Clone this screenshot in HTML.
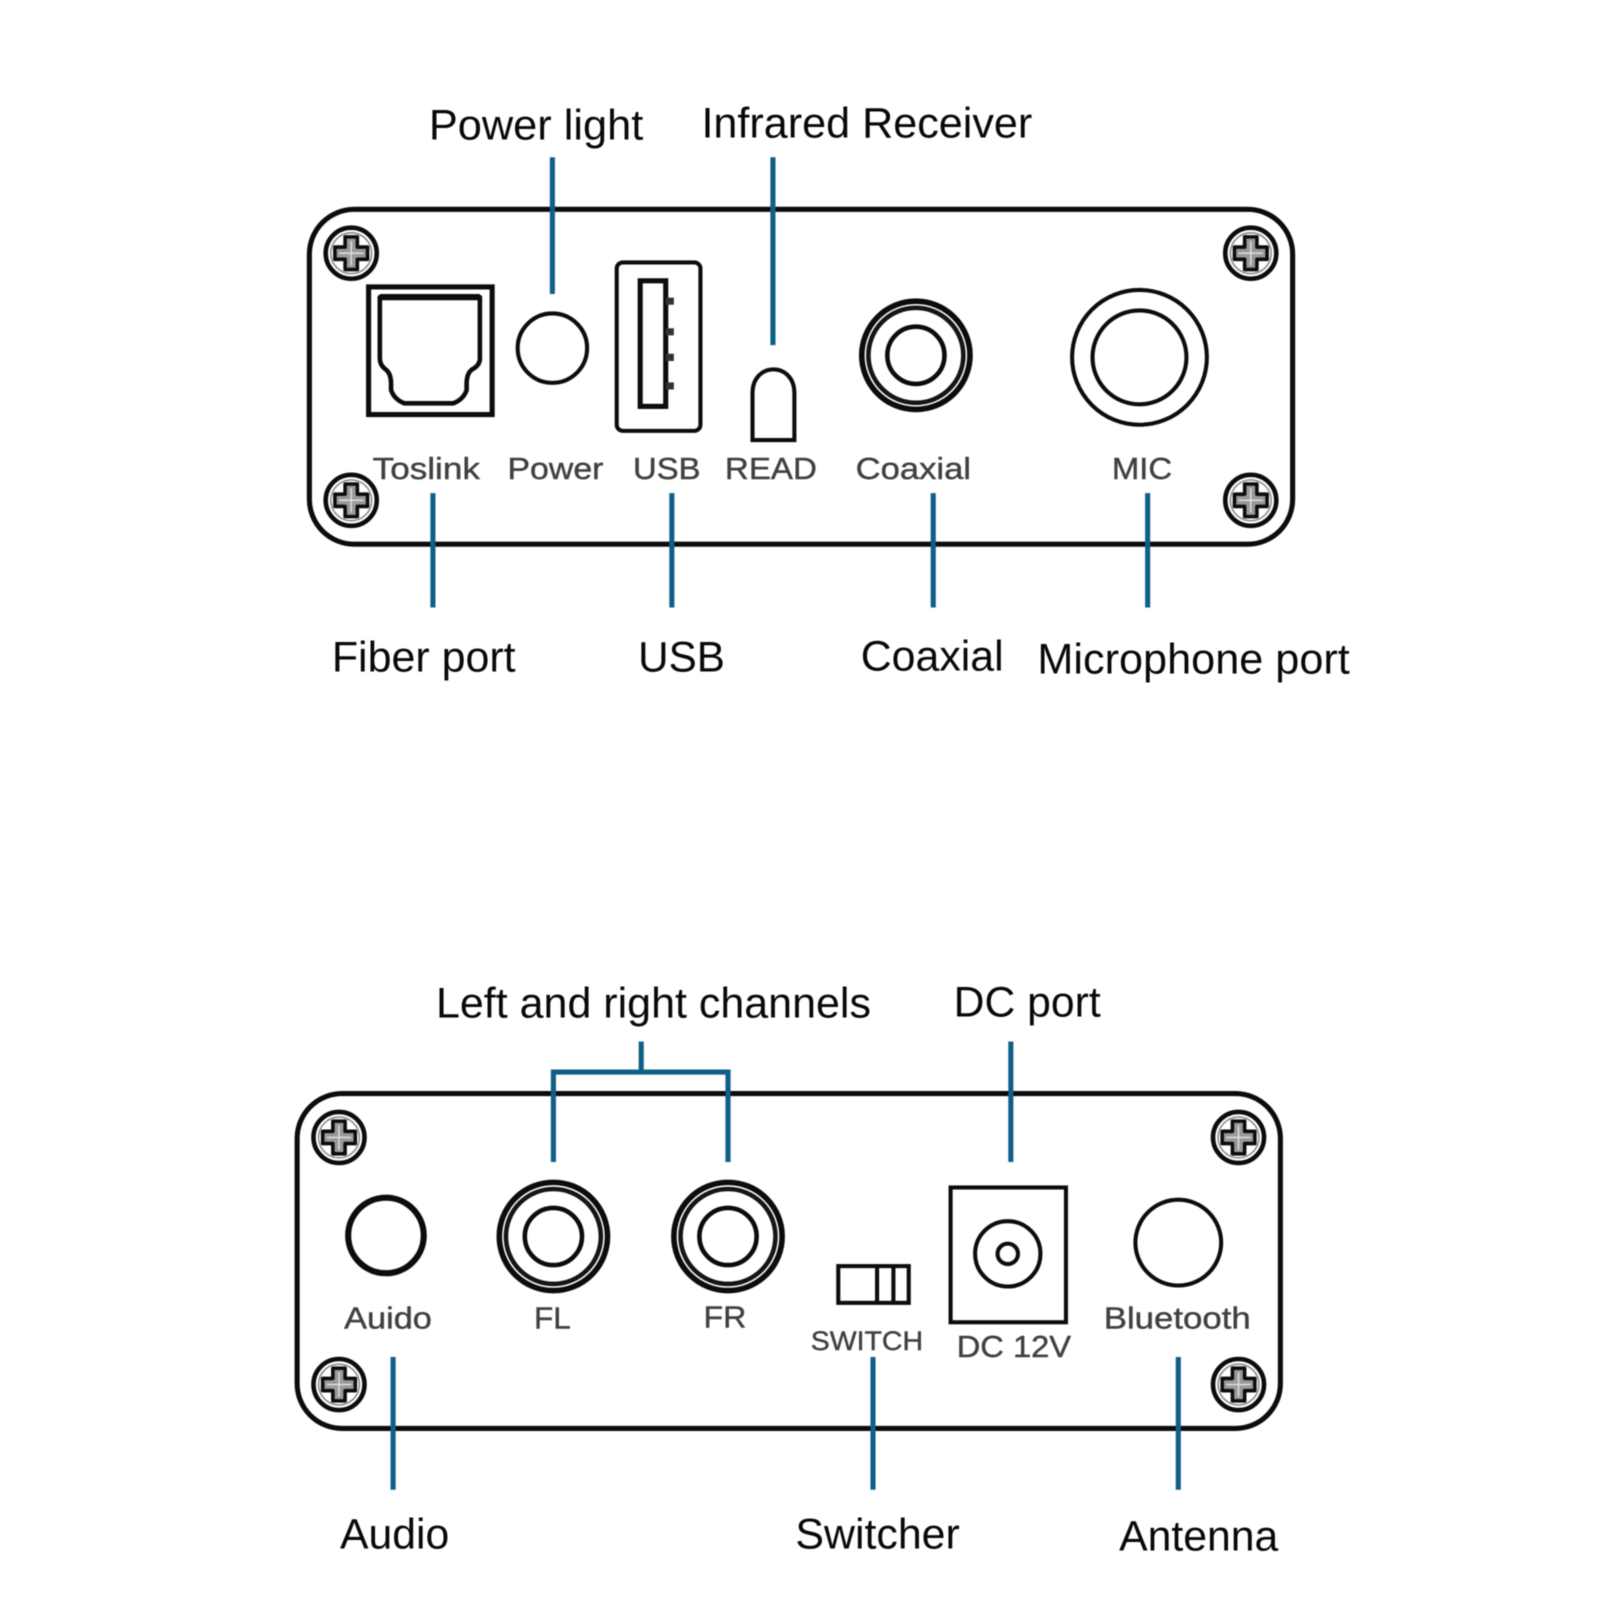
<!DOCTYPE html>
<html><head><meta charset="utf-8"><style>
html,body{margin:0;padding:0;background:#fff}
svg{display:block;filter:blur(.5px)}
.b{font:42px "Liberation Sans",sans-serif;fill:#080808}
.s{font:30px "Liberation Sans",sans-serif;fill:#404040;stroke:#404040;stroke-width:.4}
.k{fill:none;stroke:#0c0c0c;stroke-width:4}
.l{fill:none;stroke:#0f5f88;stroke-width:5}
</style></head><body>
<svg width="1601" height="1601" viewBox="0 0 1568 1568" xmlns="http://www.w3.org/2000/svg">
<defs>
<g id="sc"><circle r="25" fill="#fff" stroke="#0c0c0c" stroke-width="4.5"/><circle r="20" fill="none" stroke="#888" stroke-width="1.5"/>
<path d="M-6-16H6V-6H16V6H6V16H-6V6H-16V-6H-6Z" fill="#999" stroke="#0c0c0c" stroke-width="3.5" stroke-linejoin="round"/><path d="M0-12V12M-12 0H12" stroke="#e4e4e4" stroke-width="1.3"/></g>
<g id="rca"><circle r="53" fill="#fff" stroke="#0c0c0c" stroke-width="5.5"/><circle r="46.500" fill="none" stroke="#151515" stroke-width="4.5"/><circle r="28" fill="#fff" stroke="#0c0c0c" stroke-width="4.5"/></g>
</defs>
<rect width="1568" height="1568" fill="#fff"/>

<rect class="k" x="303" y="205" width="963" height="328" rx="44" style="stroke-width:5"/>
<use href="#sc" x="344" y="248"/><use href="#sc" x="1225" y="248"/><use href="#sc" x="344" y="490"/><use href="#sc" x="1225" y="490"/>
<rect x="361" y="281" width="121" height="125" fill="none" stroke="#0c0c0c" stroke-width="5"/>
<path d="M372 291H470V351Q470 358 462 362Q457 366 457 376V382Q454 391 444 395H396Q386 391 383 382V376Q383 366 378 362Q372 358 372 351Z" fill="none" stroke="#0c0c0c" stroke-width="4.5" stroke-linejoin="round"/>
<path d="M372 291H470" stroke="#0c0c0c" stroke-width="6"/>
<circle cx="541" cy="341" r="34" class="k"/>
<rect x="604" y="257" width="82" height="165" rx="6" class="k"/>
<rect x="627" y="275" width="25" height="123" fill="none" stroke="#0c0c0c" stroke-width="5"/>
<path d="M652 295h8M652 325h8M652 350h8M652 378h8" stroke="#333" stroke-width="7" fill="none"/>
<path d="M737 431V385C737 354 778 354 778 385V431Z" class="k"/>
<use href="#rca" x="897" y="348"/>
<circle cx="1116" cy="350" r="66" class="k"/><circle cx="1116" cy="350" r="46" class="k"/>

<g class="s">
<text x="365" y="469" textLength="105" lengthAdjust="spacingAndGlyphs">Toslink</text>
<text x="497" y="469" textLength="94" lengthAdjust="spacingAndGlyphs">Power</text>
<text x="620" y="469" textLength="66" lengthAdjust="spacingAndGlyphs">USB</text>
<text x="710" y="469" textLength="90" lengthAdjust="spacingAndGlyphs">READ</text>
<text x="838" y="469" textLength="113" lengthAdjust="spacingAndGlyphs">Coaxial</text>
<text x="1089" y="469" textLength="59" lengthAdjust="spacingAndGlyphs">MIC</text>
</g>

<path class="l" d="M541 154V288M757 154V338M424 483V595M658 483V595M914 483V595M1124 483V595"/>
<g class="b">
<text x="420" y="136.500" textLength="210" lengthAdjust="spacingAndGlyphs">Power light</text>
<text x="687" y="134.500" textLength="324" lengthAdjust="spacingAndGlyphs">Infrared Receiver</text>
<text x="325" y="657.500" textLength="180" lengthAdjust="spacingAndGlyphs">Fiber port</text>
<text x="625" y="657.500" textLength="85" lengthAdjust="spacingAndGlyphs">USB</text>
<text x="843" y="656.500" textLength="140" lengthAdjust="spacingAndGlyphs">Coaxial</text>
<text x="1016" y="659.500" textLength="306" lengthAdjust="spacingAndGlyphs">Microphone port</text>
</g>

<rect class="k" x="291" y="1071" width="963" height="328" rx="44" style="stroke-width:5"/>
<use href="#sc" x="332" y="1114"/><use href="#sc" x="1213" y="1114"/><use href="#sc" x="332" y="1356"/><use href="#sc" x="1213" y="1356"/>
<circle cx="378" cy="1210" r="37" fill="none" stroke="#0c0c0c" stroke-width="6"/>
<use href="#rca" x="542" y="1211"/><use href="#rca" x="713" y="1211"/>
<rect x="821" y="1240" width="69" height="36" class="k"/>
<path d="M859 1240V1276M875 1240V1276" class="k"/>
<rect x="931" y="1163" width="113" height="132" class="k"/>
<circle cx="987" cy="1228" r="32" class="k"/><circle cx="987" cy="1228" r="10" class="k"/>
<circle cx="1154" cy="1217" r="42" class="k"/>
<g class="s">
<text x="337" y="1301" textLength="86" lengthAdjust="spacingAndGlyphs">Auido</text>
<text x="523" y="1301" textLength="36" lengthAdjust="spacingAndGlyphs">FL</text>
<text x="689" y="1300" textLength="42" lengthAdjust="spacingAndGlyphs">FR</text>
<text x="794" y="1322" textLength="110" lengthAdjust="spacingAndGlyphs" style="font-size:26px">SWITCH</text>
<text x="937" y="1329" textLength="112" lengthAdjust="spacingAndGlyphs">DC 12V</text>
<text x="1081" y="1301" textLength="144" lengthAdjust="spacingAndGlyphs">Bluetooth</text>
</g>
<path class="l" d="M628 1020V1050M542 1138V1050H713V1138M990 1020V1138M385 1329V1459M855 1329V1459M1154 1329V1459"/>
<g class="b">
<text x="427" y="996.500" textLength="426" lengthAdjust="spacingAndGlyphs">Left and right channels</text>
<text x="934" y="995.500" textLength="144" lengthAdjust="spacingAndGlyphs">DC port</text>
<text x="333" y="1516.500" textLength="107" lengthAdjust="spacingAndGlyphs">Audio</text>
<text x="779" y="1516.500" textLength="161" lengthAdjust="spacingAndGlyphs">Switcher</text>
<text x="1096" y="1518.500" textLength="156" lengthAdjust="spacingAndGlyphs">Antenna</text>
</g>
</svg>
</body></html>
